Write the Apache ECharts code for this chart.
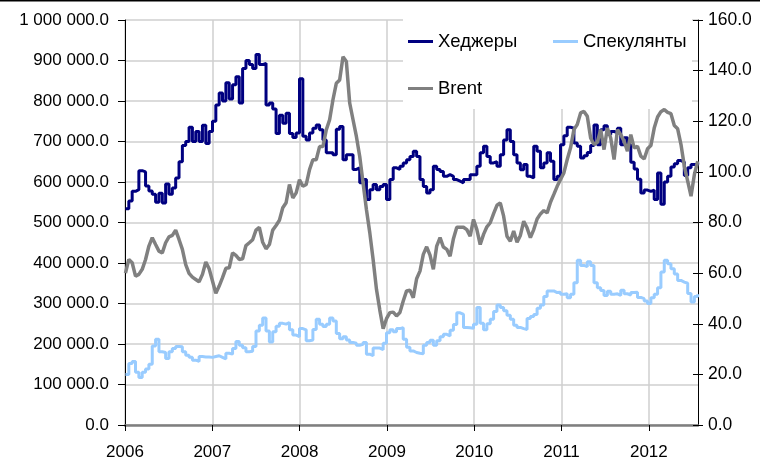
<!DOCTYPE html>
<html>
<head>
<meta charset="utf-8">
<script src="https://cdn.jsdelivr.net/npm/echarts@6/dist/echarts.min.js"></script>
<style>
html, body { margin: 0; padding: 0; background: #fff; }
#main { width: 760px; height: 461px; }
</style>
</head>
<body>
<div id="main"></div>
<script>
// weekly COT positions sampled every two weeks from 3 Jan 2006, Brent in $/bbl
var startYear = 2006;
var firstDay = 2;
var stepDays = 14;
var years = [2006, 2007, 2008, 2009, 2010, 2011, 2012];

// thousands of contracts
var hedgers = [
  534, 553, 577, 581, 628, 625, 590, 578, 570, 550, 572, 548, 595, 570, 585, 610, 650, 690, 700, 735,
  700, 725, 700, 740, 695, 725, 750, 790, 820, 800, 845, 805, 840, 860, 795, 880, 900, 890, 880, 915,
  890, 893, 790, 795, 780, 720, 765, 745, 770, 720, 710, 721, 855, 713, 704, 721, 733, 741, 729, 704,
  672, 672, 667, 730, 737, 655, 667, 667, 631, 635, 598, 606, 557, 581, 594, 581, 589, 594, 557, 606,
  635, 631, 639, 647, 655, 663, 676, 663, 606, 589, 573, 581, 639, 631, 626, 614, 618, 614, 606, 602,
  598, 606, 606, 618, 618, 639, 672, 688, 663, 647, 650, 639, 667, 704, 729, 700, 667, 647, 630, 643,
  614, 610, 688, 676, 635, 647, 672, 651, 606, 614, 692, 714, 735, 733, 696, 688, 659, 665, 673, 690,
  741, 692, 729, 739, 717, 725, 721, 733, 692, 709, 692, 649, 632, 607, 573, 580, 577, 580, 557, 622,
  545, 600, 614, 637, 645, 653, 649, 616, 635, 643, 643, 647
];
var speculators = [
  125, 152, 157, 130, 117, 130, 138, 150, 195, 212, 181, 179, 164, 181, 189, 194, 193, 181, 172, 167,
  160, 157, 169, 168, 168, 167, 169, 171, 167, 163, 177, 175, 189, 206, 197, 191, 181, 182, 194, 232,
  246, 264, 232, 205, 230, 244, 251, 249, 253, 235, 222, 218, 238, 235, 208, 210, 236, 261, 249, 243,
  249, 264, 257, 226, 213, 218, 210, 204, 202, 197, 199, 204, 175, 171, 190, 190, 186, 202, 228, 235,
  230, 238, 240, 212, 192, 183, 179, 177, 176, 197, 204, 209, 197, 208, 218, 224, 220, 234, 248, 277,
  273, 241, 240, 239, 249, 290, 251, 235, 250, 261, 280, 296, 290, 282, 271, 261, 246, 241, 238, 236,
  263, 268, 273, 288, 296, 317, 331, 331, 327, 328, 323, 324, 314, 323, 351, 407, 394, 391, 403, 394,
  351, 339, 332, 320, 330, 323, 324, 320, 333, 324, 321, 327, 328, 315, 312, 306, 300, 314, 323, 339,
  378, 407, 398, 386, 373, 357, 353, 350, 325, 304, 317, 323
];
var brent = [
  60, 65.4, 64.1, 58.8, 59.5, 61.5, 65.4, 70.7, 74, 71.3, 68.7, 68, 72, 74.3, 74.9, 77, 73.3, 69.4, 63.4, 59.9,
  58.4, 57.5, 56.6, 59.5, 64.4, 61.7, 56.9, 52, 54.9, 58.2, 61.9, 62.1, 68, 67, 65.4, 65.7, 70.9, 72, 73.2, 77,
  78.1, 72.2, 69.6, 71.3, 77, 78.8, 80.9, 85.8, 87.8, 95, 89.7, 91.7, 96.9, 94.3, 95, 100.9, 104.8, 104.8, 110, 110,
  116.6, 120.6, 128.5, 135, 136.3, 145.5, 143.6, 127.2, 120.6, 114, 106.1, 95.6, 85.1, 76, 65.4, 53.6, 45.4, 38, 42, 44.4,
  44.6, 43.1, 44.4, 49, 53, 53.3, 50.3, 57.8, 60.8, 67.4, 70.4, 67.1, 61.5, 70.7, 74, 70.3, 69.4, 66.7, 73.6, 78.1,
  78.1, 78.1, 77.2, 74.6, 81.2, 77.2, 71.3, 75.3, 78.3, 79.9, 83.5, 86.8, 87.7, 82.5, 74.6, 72.6, 76.6, 72.2, 74.9, 80.5,
  77.9, 74, 77.2, 81.4, 83.4, 84.7, 83.8, 88, 91.1, 94.3, 97, 99.6, 104.9, 109.5, 116.7, 118.7, 123.3, 123.9, 122, 113.4,
  110.8, 111.7, 116.7, 108.8, 117.3, 113.4, 104.9, 116.7, 114.7, 112.1, 108.2, 114.7, 109.5, 110.1, 106.2, 105.1, 109.1, 110.4, 117.3, 121.7,
  123.8, 124.6, 123.5, 123, 118.3, 117, 110.8, 102.2, 96.3, 90.4, 99, 104.2
];

function withDates(arr, scale) {
  return arr.map(function (v, i) {
    return [startYear + (firstDay + stepDays * i) / 365.25, v * scale];
  });
}

function fmtSpaces(v) {
  var p = v.toFixed(1).split('.');
  return p[0].replace(/\B(?=(\d{3})+$)/g, ' ') + '.' + p[1];
}

var font = "'Liberation Sans', Arial, sans-serif";
var gridColor = '#cfcfcf';

var chart = echarts.init(document.getElementById('main'));

var legendCommon = {
  icon: 'rect',
  itemWidth: 25,
  itemHeight: 3,
  padding: 0,
  selectedMode: false,
  textStyle: { fontSize: 18.5, color: '#000', fontFamily: font }
};

var option = {
  animation: false,
  backgroundColor: '#fff',
  grid: { left: 125, right: 62, top: 20, bottom: 35 },
  legend: [
    Object.assign({ data: ['Хеджеры'], left: 408, top: 32 }, legendCommon),
    Object.assign({ data: ['Спекулянты'], left: 553, top: 32 }, legendCommon),
    Object.assign({ data: ['Brent'], left: 408, top: 79 }, legendCommon)
  ],
  graphic: [
    { type: 'rect', z: 1, silent: true, shape: { x: 403, y: 17, width: 289, height: 92 }, style: { fill: '#fff' } },
    { type: 'rect', z: 10, silent: true, shape: { x: 0, y: 0, width: 760, height: 1.5 }, style: { fill: '#000' } }
  ],
  xAxis: {
    type: 'value',
    min: 2006,
    max: 2012.563,
    interval: 1,
    axisLine: { onZero: false, lineStyle: { color: '#7f7f7f', width: 2.5 } },
    axisTick: { customValues: years, length: 6, lineStyle: { color: '#000' } },
    axisLabel: {
      customValues: years,
      margin: 19,
      fontSize: 17,
      color: '#000',
      fontFamily: font,
      formatter: function (v) { return Number.isInteger(v) ? String(v) : ''; }
    },
    splitLine: { show: true, lineStyle: { color: gridColor, width: 1.5 } }
  },
  yAxis: [{
    type: 'value',
    position: 'left',
    min: 0,
    max: 1000000,
    interval: 100000,
    axisLine: { show: true, lineStyle: { color: '#000', width: 1 } },
    axisTick: { show: true, length: 7, lineStyle: { color: '#000' } },
    axisLabel: { margin: 16, fontSize: 17, color: '#000', fontFamily: font, formatter: fmtSpaces },
    splitLine: { show: true, lineStyle: { color: gridColor, width: 1.5 } }
  }, {
    type: 'value',
    position: 'right',
    min: 0,
    max: 160,
    interval: 20,
    axisLine: { show: true, lineStyle: { color: '#000', width: 1 } },
    axisTick: { show: true, length: 5, lineStyle: { color: '#000' } },
    axisLabel: { margin: 10, fontSize: 17.5, color: '#000', fontFamily: font, formatter: function (v) { return v.toFixed(1); } },
    splitLine: { show: false }
  }, {
    // inner half of the crossing ticks on the right axis
    type: 'value',
    position: 'right',
    min: 0,
    max: 160,
    interval: 20,
    axisLine: { show: false },
    axisTick: { show: true, inside: true, length: 5, lineStyle: { color: '#000' } },
    axisLabel: { show: false },
    splitLine: { show: false }
  }],
  series: [
    {
      name: 'Хеджеры',
      type: 'line',
      step: 'end',
      yAxisIndex: 0,
      showSymbol: false,
      data: withDates(hedgers, 1000),
      lineStyle: { color: '#000080', width: 3 },
      itemStyle: { color: '#000080' }
    },
    {
      name: 'Спекулянты',
      type: 'line',
      step: 'end',
      yAxisIndex: 0,
      showSymbol: false,
      data: withDates(speculators, 1000),
      lineStyle: { color: '#99ccff', width: 3 },
      itemStyle: { color: '#99ccff' }
    },
    {
      name: 'Brent',
      type: 'line',
      yAxisIndex: 1,
      showSymbol: false,
      data: withDates(brent, 1),
      lineStyle: { color: '#808080', width: 3.5 },
      itemStyle: { color: '#808080' }
    }
  ]
};

chart.setOption(option);
</script>
</body>
</html>
